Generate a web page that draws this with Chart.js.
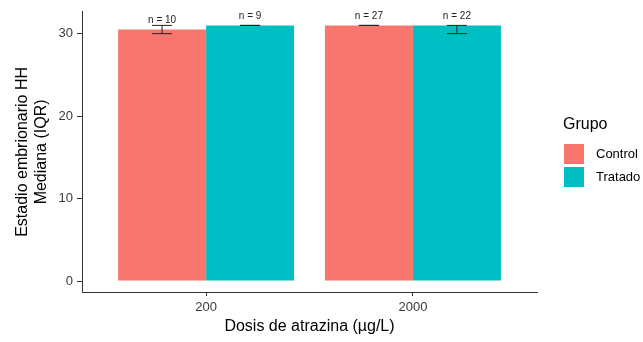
<!DOCTYPE html>
<html>
<head>
<meta charset="utf-8">
<script src="https://cdn.jsdelivr.net/npm/chart.js@4"></script>
<style>
  html, body { margin: 0; padding: 0; background: #fff; }
  #wrap { width: 643px; height: 342px; }
</style>
</head>
<body>
<div id="wrap"><canvas id="chart" width="643" height="342"></canvas></div>
<script>
// Data
const doses = ['200', '2000'];
const groups = ['Control', 'Tratado'];
const controlMedian = [30.5, 31];
const treatedMedian = [31, 31];
const controlLow = [30, 31];
const controlHigh = [31, 31];
const treatedLow = [31, 30];
const treatedHigh = [31, 31];
const controlN = [10, 27];
const treatedN = [9, 22];
const yTicks = [0, 10, 20, 30];

const colors = ['#F8766D', '#00BFC4'];
const FONT = "'Liberation Sans', Arial, sans-serif";

const errLow = [controlLow, treatedLow];
const errHigh = [controlHigh, treatedHigh];
const counts = [controlN, treatedN];

// error bars + n labels
const errorBars = {
    id: 'errorBars',
    afterDatasetsDraw(chart) {
        const ctx = chart.ctx;
        const y = chart.scales.y;
        ctx.save();
        chart.data.datasets.forEach((ds, di) => {
            const meta = chart.getDatasetMeta(di);
            meta.data.forEach((el, i) => {
                const yl = y.getPixelForValue(errLow[di][i]);
                const yh = y.getPixelForValue(errHigh[di][i]);
                ctx.strokeStyle = '#222';
                ctx.lineWidth = 1;
                ctx.beginPath();
                ctx.moveTo(el.x, yl); ctx.lineTo(el.x, yh);
                ctx.moveTo(el.x - 10, yl); ctx.lineTo(el.x + 10, yl);
                ctx.moveTo(el.x - 10, yh); ctx.lineTo(el.x + 10, yh);
                ctx.stroke();

                ctx.fillStyle = '#222';
                ctx.font = '10px ' + FONT;
                ctx.textAlign = 'center';
                ctx.textBaseline = 'middle';
                ctx.fillText('n = ' + counts[di][i], el.x, el.y - 9);
            });
        });
        ctx.restore();
    }
};

// ggplot-like legend on the right
const sideLegend = {
    id: 'sideLegend',
    afterDraw(chart) {
        const ctx = chart.ctx;
        ctx.save();
        ctx.fillStyle = '#000';
        ctx.font = '16px ' + FONT;
        ctx.textAlign = 'left';
        ctx.textBaseline = 'middle';
        ctx.fillText('Grupo', 563, 125);
        chart.data.datasets.forEach((ds, i) => {
            const top = 144 + i * 23;
            ctx.fillStyle = ds.backgroundColor;
            ctx.fillRect(564, top, 20, 20);
            ctx.fillStyle = '#000';
            ctx.font = '13px ' + FONT;
            ctx.fillText(ds.label, 596, top + 10);
        });
        ctx.restore();
    }
};

new Chart(document.getElementById('chart'), {
    type: 'bar',
    data: {
        datasets: [
            {
                label: groups[0],
                data: controlMedian.map((v, i) => ({ x: i + 1, y: v })),
                backgroundColor: colors[0]
            },
            {
                label: groups[1],
                data: treatedMedian.map((v, i) => ({ x: i + 1, y: v })),
                backgroundColor: colors[1]
            }
        ]
    },
    options: {
        responsive: false,
        animation: false,
        categoryPercentage: 0.851,
        barPercentage: 1,
        layout: { padding: { top: 10, right: 106, left: 0, bottom: 0 } },
        plugins: {
            legend: { display: false },
            tooltip: { enabled: false }
        },
        scales: {
            x: {
                type: 'linear',
                min: 0.4,
                max: 2.6,
                offset: false,
                afterBuildTicks: (s) => { s.ticks = doses.map((d, i) => ({ value: i + 1 })); },
                afterFit: (s) => { s.height = 50; },
                grid: { offset: false, drawOnChartArea: false, drawTicks: true, tickLength: 4, color: '#333' },
                border: { color: '#333', width: 1 },
                ticks: {
                    color: '#3a3a3a',
                    font: { family: FONT, size: 13 },
                    padding: 4,
                    callback: (v) => doses[v - 1]
                },
                title: {
                    display: true,
                    text: 'Dosis de atrazina (µg/L)',
                    color: '#000',
                    font: { family: FONT, size: 16 },
                    padding: { top: 0, bottom: 6 }
                }
            },
            y: {
                min: -1.33,
                max: 32.65,
                afterBuildTicks: (s) => { s.ticks = yTicks.map(v => ({ value: v })); },
                afterFit: (s) => { s.width = 82; },
                grid: { drawOnChartArea: false, drawTicks: true, tickLength: 5, color: '#333' },
                border: { color: '#333', width: 1 },
                ticks: {
                    color: '#3a3a3a',
                    font: { family: FONT, size: 13 },
                    padding: 4
                },
                title: {
                    display: true,
                    text: ['Estadio embrionario HH', 'Mediana (IQR)'],
                    color: '#000',
                    font: { family: FONT, size: 16, lineHeight: 1.2 },
                    padding: { top: 13, bottom: 0 }
                }
            }
        }
    },
    plugins: [errorBars, sideLegend]
});
</script>
</body>
</html>
